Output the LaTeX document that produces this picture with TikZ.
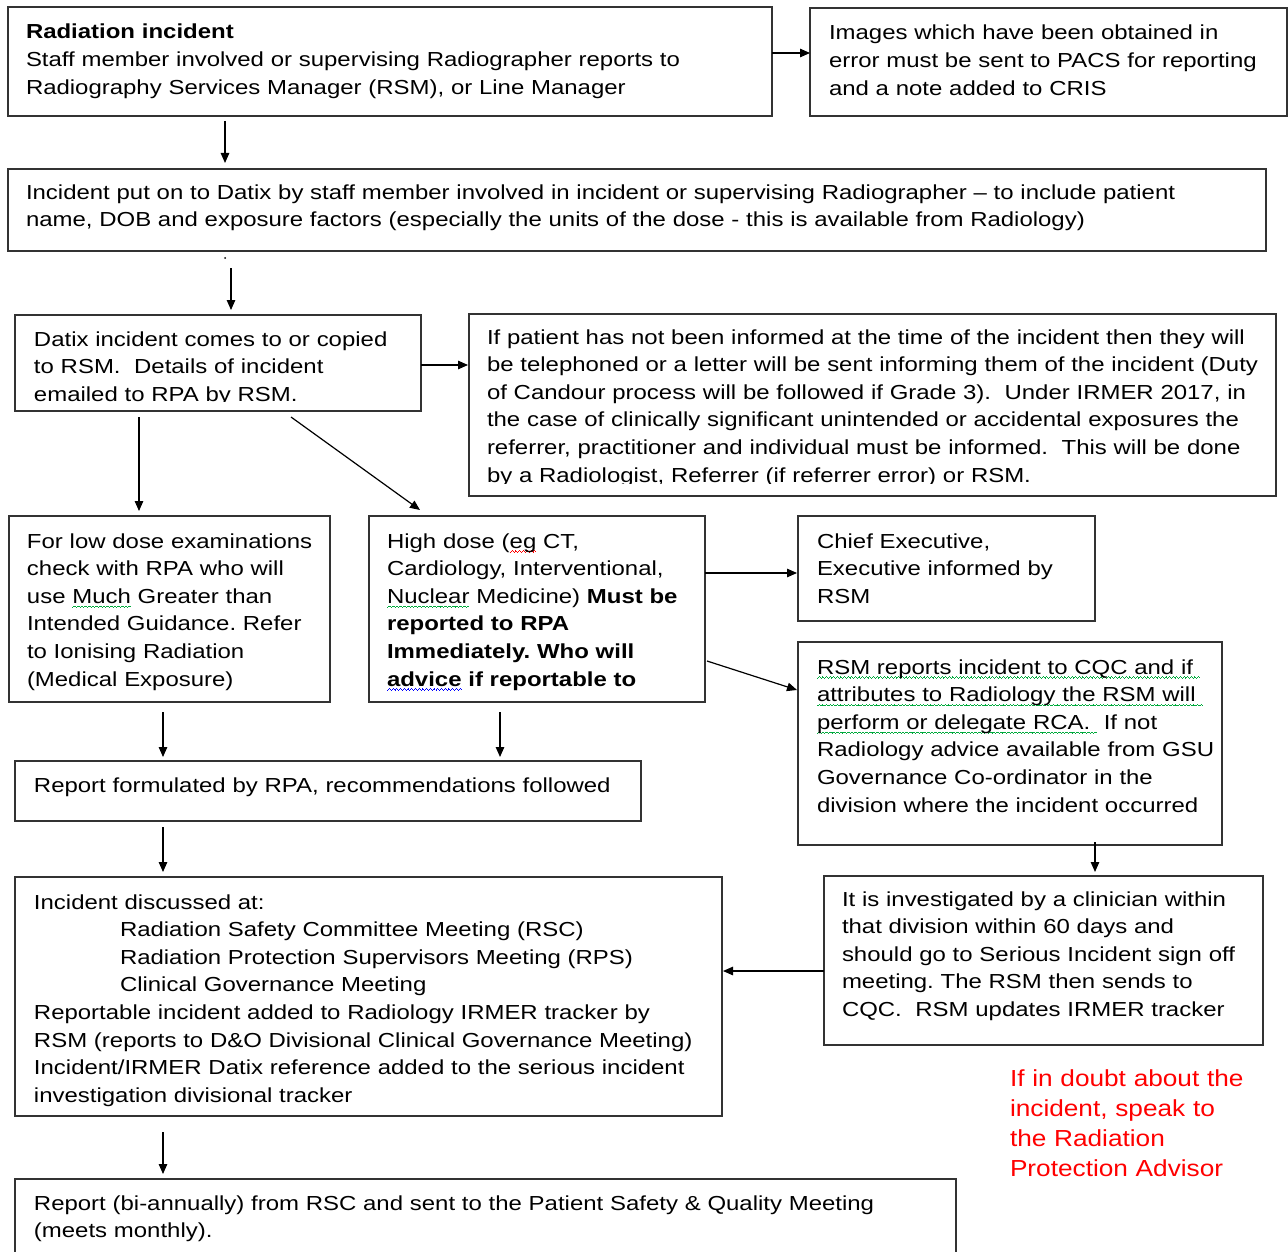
\documentclass[tikz,border=0pt]{standalone}
\usepackage{fontspec}
\setmainfont{Liberation Sans}[FakeStretch=1.18]
\newfontfamily\redfont{Liberation Sans}[FakeStretch=1.13]
\usetikzlibrary{arrows.meta}
\frenchspacing
\newsavebox\wavebox
\newcommand{\wavebit}{\rule[-4.2pt]{0.9pt}{0.7pt}\rule[-3.6pt]{0.9pt}{0.7pt}\rule[-3.0pt]{0.9pt}{0.7pt}\rule[-3.6pt]{0.9pt}{0.7pt}}
\newcommand{\cwave}[2]{\leavevmode\sbox\wavebox{#2}\rlap{\color{#1}\hbox to \wd\wavebox{\xleaders\hbox{\wavebit}\hfill}}\usebox\wavebox}
\definecolor{wgreen}{RGB}{0,170,60}
\tikzset{
  box/.style={draw=black!80, line width=1.2pt, inner sep=0pt, outer sep=0pt, anchor=north west},
  txt/.style={inner sep=0pt, outer sep=0pt, anchor=base west, align=left, text width=1200pt,
              font=\fontsize{20.3}{27.6}\selectfont},
  arr/.style={draw=black, line width=1.2pt, -{Triangle[length=10pt,width=8.5pt]}},
}
\begin{document}
\begin{tikzpicture}[x=1pt,y=-1pt]
\useasboundingbox (0,0) rectangle (1288,1252);

% boxes
\node[box, minimum width=764pt, minimum height=109pt] (b1) at (8,7) {};
\node[box, minimum width=477pt, minimum height=108pt] (b2) at (810,8) {};
\node[box, minimum width=1258pt, minimum height=82pt] (b3) at (8,169) {};
\node[box, minimum width=406pt, minimum height=96pt] (b4) at (15,315) {};
\node[box, minimum width=807pt, minimum height=182pt] (b5) at (469,314) {};
\node[box, minimum width=321pt, minimum height=186pt] (b6) at (9,516) {};
\node[box, minimum width=336pt, minimum height=186pt] (b7) at (369,516) {};
\node[box, minimum width=297pt, minimum height=105pt] (b8) at (798,516) {};
\node[box, minimum width=424pt, minimum height=203pt] (b9) at (798,642) {};
\node[box, minimum width=626pt, minimum height=60pt] (b10) at (15,761) {};
\node[box, minimum width=707pt, minimum height=239pt] (b11) at (15,877) {};
\node[box, minimum width=439pt, minimum height=169pt] (b12) at (824,876) {};
\node[box, minimum width=941pt, minimum height=95pt] (b13) at (15,1179) {};

% texts
\node[txt, font=\fontsize{20.3}{28}\selectfont] (t1) at (26,39) {\textbf{Radiation incident}\\
Staff member involved or supervising Radiographer reports to\\
Radiography Services Manager (RSM), or Line Manager};
\node[txt] (t2) at (829,40) {Images which have been obtained in\\
error must be sent to PACS for reporting\\
and a note added to CRIS};
\node[txt, font=\fontsize{20.3}{27}\selectfont] (t3) at (26,200) {Incident put on to Datix by staff member involved in incident or supervising Radiographer – to include patient\\
name, DOB and exposure factors (especially the units of the dose - this is available from Radiology)};
\begin{scope}
\clip (0,300) rectangle (1288,401);
\node[txt] (t4) at (34,346) {Datix incident comes to or copied\\
to RSM.\ \ Details of incident\\
emailed to RPA by RSM.};
\end{scope}
\begin{scope}
\clip (0,300) rectangle (1288,483.5);
\node[txt] (t5) at (487,344) {If patient has not been informed at the time of the incident then they will\\
be telephoned or a letter will be sent informing them of the incident (Duty\\
of Candour process will be followed if Grade 3).\ \ Under IRMER 2017, in\\
the case of clinically significant unintended or accidental exposures the\\
referrer, practitioner and individual must be informed.\ \ This will be done\\
by a Radiologist, Referrer (if referrer error) or RSM.};
\end{scope}
\node[txt] (t6) at (27,548) {For low dose examinations\\
check with RPA who will\\
use \cwave{wgreen}{Much} Greater than\\
Intended Guidance.\ Refer\\
to Ionising Radiation\\
(Medical Exposure)};
\node[txt] (t7) at (387,548) {High dose (\cwave{red}{eg} CT,\\
Cardiology, Interventional,\\
\cwave{wgreen}{Nuclear} Medicine) \textbf{Must be}\\
\textbf{reported to RPA}\\
\textbf{Immediately. Who will}\\
\textbf{\cwave{blue}{advice} if reportable to}};
\node[txt] (t8) at (817,548) {Chief Executive,\\
Executive informed by\\
RSM};
\node[txt] (t9) at (817,674) {\cwave{wgreen}{RSM reports incident to CQC and if\ }\\
\cwave{wgreen}{attributes to Radiology the RSM will\ }\\
\cwave{wgreen}{perform or delegate RCA.\ }\ If not\\
Radiology advice available from GSU\\
Governance Co-ordinator in the\\
division where the incident occurred};
\node[txt] (t10) at (34,792) {Report formulated by RPA, recommendations followed};
\node[txt] (t11) at (34,909) {Incident discussed at:\\
\hspace*{86pt}Radiation Safety Committee Meeting (RSC)\\
\hspace*{86pt}Radiation Protection Supervisors Meeting (RPS)\\
\hspace*{86pt}Clinical Governance Meeting\\
Reportable incident added to Radiology IRMER tracker by\\
RSM (reports to D\&O Divisional Clinical Governance Meeting)\\
Incident/IRMER Datix reference added to the serious incident\\
investigation divisional tracker};
\node[txt] (t12) at (842,906) {It is investigated by a clinician within\\
that division within 60 days and\\
should go to Serious Incident sign off\\
meeting. The RSM then sends to\\
CQC.\ \ RSM updates IRMER tracker};
\node[txt] (t13) at (34,1210) {Report (bi-annually) from RSC and sent to the Patient Safety \& Quality Meeting\\
(meets monthly).};
\node[txt, text=red, font=\redfont\fontsize{23.2}{30}\selectfont] (red) at (1010,1086.5) {If in doubt about the\\
incident, speak to\\
the Radiation\\
Protection Advisor};

% stray dot
\fill[black] (225,258) circle (1pt);

% connectors
\draw[arr, shorten <=5pt, shorten >=6pt] ([xshift=217pt]b1.south west) -- ([xshift=217pt]b1.south west |- b3.north);
\draw[arr] ([yshift=8.5pt]b1.east) -- ([yshift=8.5pt]b1.east -| b2.west);
\draw[arr, shorten <=17pt, shorten >=5pt] ([xshift=223pt]b3.south west) -- ([xshift=223pt]b3.south west |- b4.north);
\draw[arr, shorten >=1pt] ([yshift=-2pt]b4.east) -- ([yshift=-2pt]b4.east -| b5.west);
\draw[arr, shorten <=6pt, shorten >=5pt] ([xshift=124pt]b4.south west) -- ([xshift=124pt]b4.south west |- b6.north);
\draw[arr] ([xshift=276pt,yshift=-6pt]b4.south west) -- ([xshift=51pt,yshift=6pt]b7.north west);
\draw[arr, shorten >=1pt] ([yshift=36pt]b7.east) -- ([yshift=36pt]b7.east -| b8.west);
\draw[arr] ([xshift=2pt,yshift=-52pt]b7.east) -- ([xshift=-1pt,yshift=53.5pt]b9.west);
\draw[arr, shorten <=10pt, shorten >=4pt] ([xshift=154pt]b6.south west) -- ([xshift=154pt]b6.south west |- b10.north);
\draw[arr, shorten <=10pt, shorten >=4pt] ([xshift=131pt]b7.south west) -- ([xshift=131pt]b7.south west |- b10.north);
\draw[arr, shorten <=6pt, shorten >=5pt] ([xshift=148pt]b10.south west) -- ([xshift=148pt]b10.south west |- b11.north);
\draw[arr, shorten >=4pt] ([xshift=297pt,yshift=3pt]b9.south west) -- ([xshift=297pt]b9.south west |- b12.north);
\draw[arr, shorten >=1pt] ([yshift=-10.5pt]b12.west) -- ([yshift=-10.5pt]b12.west -| b11.east);
\draw[arr, shorten <=16pt, shorten >=5pt] ([xshift=148pt]b11.south west) -- ([xshift=148pt]b11.south west |- b13.north);
\end{tikzpicture}
\end{document}
